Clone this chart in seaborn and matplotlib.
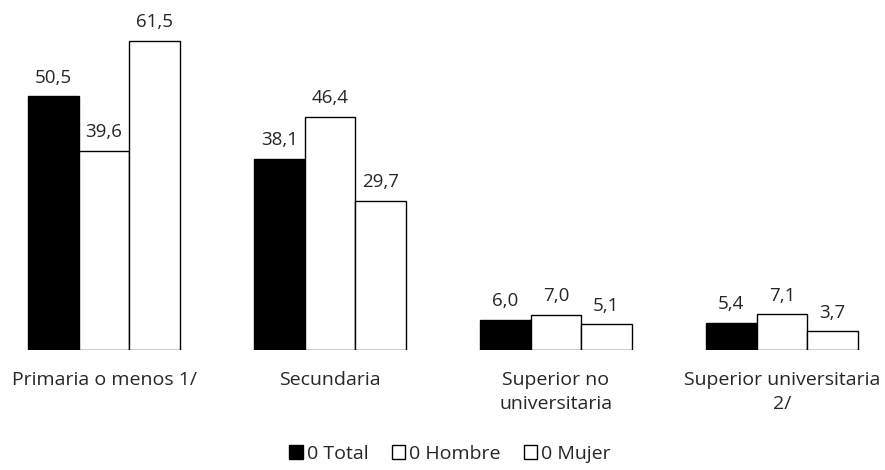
import pandas as pd
import seaborn as sns
import matplotlib.pyplot as plt

# Data
categorias = ['Primaria o menos 1/', 'Secundaria', 'Superior no\nuniversitaria', 'Superior universitaria\n2/']
series = ['0 Total', '0 Hombre', '0 Mujer']
total = [50.5, 38.1, 6.0, 5.4]
hombre = [39.6, 46.4, 7.0, 7.1]
mujer = [61.5, 29.7, 5.1, 3.7]

df = pd.DataFrame({
    'categoria': categorias * 3,
    'serie': [series[0]] * 4 + [series[1]] * 4 + [series[2]] * 4,
    'valor': total + hombre + mujer,
})

sns.set_style('white')
plt.rcParams['font.family'] = ['Open Sans', 'DejaVu Sans']

fig = plt.figure(figsize=(8.85, 4.7), dpi=100)
ax = fig.add_axes([10 / 885, 120 / 470, 865 / 885, 330 / 470])

sns.barplot(data=df, x='categoria', y='valor', hue='serie', order=categorias, hue_order=series,
            palette=['black', 'white', 'white'], edgecolor='black', linewidth=1.0,
            width=0.67, ax=ax, legend=True)

for cont in ax.containers:
    ax.bar_label(cont, labels=[f'{v:.1f}'.replace('.', ',') for v in cont.datavalues],
                 padding=7, fontsize=13.5)

ax.set_xlim(-0.416, 3.412)
ax.set_ylim(0, 65.7)
ax.set_yticks([])
ax.set_xlabel('')
ax.set_ylabel('')
for s in ax.spines.values():
    s.set_visible(False)
# faint baseline
ax.axhline(0, color='#cccccc', lw=0.8, ls=(0, (3, 4)), zorder=0)

ax.tick_params(axis='x', length=0, pad=15, labelsize=14)
for lab in ax.get_xticklabels():
    lab.set_verticalalignment('top')
    lab.set_linespacing(1.45)

ax.get_legend().remove()
h, l = ax.get_legend_handles_labels()
fig.legend(h[:3], l[:3], loc='center', bbox_to_anchor=(450 / 885, 16 / 470), ncol=3,
           frameon=False, fontsize=14, handlelength=0.7, handleheight=0.7,
           handletextpad=0.2, columnspacing=1.2)

fig.savefig('out.png', dpi=100)
